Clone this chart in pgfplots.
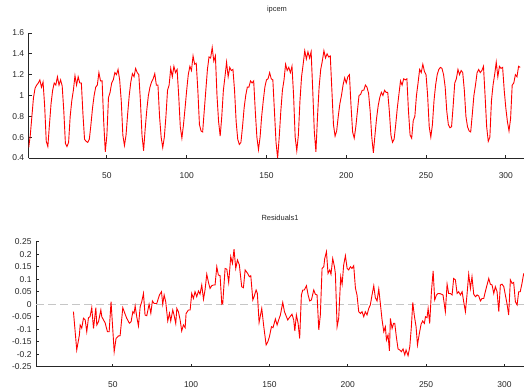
\documentclass[border=0pt]{standalone}
\usepackage{pgfplots}
\pgfplotsset{compat=1.18}
\usepackage{fontspec}
\setmainfont{Liberation Sans}
\pgfplotsset{
  gstyle/.style={
    scale only axis,
    axis x line=bottom, axis y line=left,
    axis line style={-, line width=1bp, black!85},
    tick align=inside,
    major tick length=3bp,
    every tick/.append style={black!85, line width=0.8bp},
    tick label style={font=\fontsize{8.5}{10}\selectfont, text=black!85},
    /pgf/number format/assume math mode=true,
    /pgf/number format/fixed,
    /pgf/number format/precision=2,
    xtick={50,100,150,200,250,300},
    xticklabel style={yshift=-11bp},
    yticklabel style={xshift=-1bp},
  }
}
\begin{document}
\begin{tikzpicture}
\useasboundingbox (0,0) rectangle (524bp,-389bp);
\node[font=\fontsize{7.5}{9}\selectfont, text=black!85] at (277bp,-10bp) {ipcem};
\node[font=\fontsize{7.5}{9}\selectfont, text=black!85] at (280bp,-218bp) {Residuals1};
\begin{axis}[gstyle,
  at={(28.7bp,-158bp)}, anchor=south west,
  width=495.3bp, height=125bp,
  xmin=1, xmax=311.4, ymin=0.4, ymax=1.6,
  ytick={0.4,0.6,0.8,1,1.2,1.4,1.6}]
\addplot[red, line width=0.9bp] coordinates {
(1,0.50)(2,0.62)(3,0.80)(4,0.98)(5,1.07)(6,1.10)(7,1.12)(8,1.15)(9,1.08)(10,1.13)(11,0.90)(12,0.56)
(13,0.51)(14,0.72)(15,0.92)(16,1.05)(17,1.12)(18,1.10)(19,1.18)(20,1.10)(21,1.15)(22,1.09)(23,0.85)(24,0.54)
(25,0.51)(26,0.55)(27,0.80)(28,0.95)(29,1.05)(30,1.19)(31,1.10)(32,1.18)(33,1.12)(34,1.12)(35,0.82)(36,0.58)
(37,0.56)(38,0.55)(39,0.58)(40,0.72)(41,0.88)(42,1.00)(43,1.08)(44,1.10)(45,1.22)(46,1.14)(47,1.14)(48,0.75)
(49,0.46)(50,0.62)(51,0.98)(52,1.03)(53,1.12)(54,1.15)(55,1.22)(56,1.20)(57,1.25)(58,1.15)(59,0.95)(60,0.62)
(61,0.52)(62,0.62)(63,0.82)(64,1.00)(65,1.13)(66,1.21)(67,1.18)(68,1.26)(69,1.22)(70,1.20)(71,0.95)(72,0.62)
(73,0.47)(74,0.68)(75,0.86)(76,1.00)(77,1.08)(78,1.13)(79,1.16)(80,1.21)(81,1.10)(82,1.10)(83,0.80)(84,0.60)
(85,0.50)(86,0.60)(87,0.80)(88,1.05)(89,1.10)(90,1.26)(91,1.18)(92,1.28)(93,1.22)(94,1.25)(95,1.00)(96,0.70)
(97,0.59)(98,0.72)(99,0.88)(100,1.05)(101,1.20)(102,1.28)(103,1.24)(104,1.38)(105,1.30)(106,1.31)(107,1.05)(108,0.72)
(109,0.66)(110,0.65)(111,0.85)(112,1.05)(113,1.25)(114,1.37)(115,1.36)(116,1.46)(117,1.33)(118,1.38)(119,1.00)(120,0.75)
(121,0.61)(122,0.80)(123,1.05)(124,1.18)(125,1.32)(126,1.18)(127,1.27)(128,1.24)(129,1.25)(130,1.05)(131,0.75)(132,0.58)
(133,0.53)(134,0.55)(135,0.70)(136,0.88)(137,1.00)(138,1.08)(139,1.08)(140,1.14)(141,1.12)(142,1.14)(143,0.85)(144,0.60)
(145,0.48)(146,0.60)(147,0.80)(148,0.95)(149,1.08)(150,1.15)(151,1.16)(152,1.22)(153,1.16)(154,1.15)(155,0.85)(156,0.55)
(157,0.40)(158,0.60)(159,0.85)(160,1.05)(161,1.15)(162,1.30)(163,1.24)(164,1.27)(165,1.22)(166,1.28)(167,1.00)(168,0.60)
(169,0.47)(170,0.62)(171,0.95)(172,1.18)(173,1.30)(174,1.43)(175,1.35)(176,1.42)(177,1.36)(178,1.42)(179,1.05)(180,0.65)
(181,0.46)(182,0.80)(183,1.08)(184,1.25)(185,1.33)(186,1.43)(187,1.36)(188,1.40)(189,1.37)(190,1.38)(191,1.05)(192,0.72)
(193,0.61)(194,0.66)(195,0.80)(196,0.92)(197,1.00)(198,1.10)(199,1.17)(200,1.12)(201,1.18)(202,1.20)(203,0.90)(204,0.65)
(205,0.59)(206,0.70)(207,0.85)(208,1.00)(209,1.01)(210,1.05)(211,1.05)(212,1.10)(213,1.08)(214,1.02)(215,0.85)(216,0.60)
(217,0.45)(218,0.62)(219,0.78)(220,0.90)(221,0.98)(222,1.03)(223,1.00)(224,1.05)(225,1.03)(226,1.03)(227,0.85)(228,0.62)
(229,0.55)(230,0.58)(231,0.72)(232,0.88)(233,1.01)(234,1.14)(235,1.10)(236,1.16)(237,1.15)(238,1.16)(239,0.85)(240,0.62)
(241,0.59)(242,0.76)(243,0.80)(244,1.00)(245,1.12)(246,1.25)(247,1.22)(248,1.30)(249,1.23)(250,1.20)(251,1.00)(252,0.70)
(253,0.60)(254,0.72)(255,0.95)(256,1.10)(257,1.20)(258,1.25)(259,1.27)(260,1.26)(261,1.20)(262,1.08)(263,0.85)(264,0.72)
(265,0.69)(266,0.70)(267,0.90)(268,1.12)(269,1.16)(270,1.25)(271,1.20)(272,1.24)(273,1.22)(274,1.05)(275,0.80)(276,0.70)
(277,0.66)(278,0.65)(279,0.82)(280,1.00)(281,1.10)(282,1.22)(283,1.25)(284,1.22)(285,1.24)(286,1.28)(287,1.00)(288,0.70)
(289,0.56)(290,0.60)(291,0.95)(292,1.10)(293,1.20)(294,1.32)(295,1.18)(296,1.28)(297,1.26)(298,1.27)(299,1.05)(300,0.88)
(301,0.75)(302,0.66)(303,0.78)(304,1.10)(305,1.12)(306,1.20)(307,1.18)(308,1.28)(309,1.27)
};
\end{axis}
\begin{axis}[gstyle,
  at={(36bp,-366.7bp)}, anchor=south west,
  width=488bp, height=125bp,
  xmin=1, xmax=312.5, ymin=-0.25, ymax=0.25,
  ytick={-0.25,-0.2,-0.15,-0.1,-0.05,0,0.05,0.1,0.15,0.2,0.25}]
\addplot[gray!45, line width=1bp, dash pattern=on 8bp off 4bp] coordinates {(1,0) (312.5,0)};
\addplot[red, line width=0.9bp] coordinates {
(24.9,-0.03)(27.0,-0.183)(28.7,-0.123)(29.2,-0.083)(30.2,-0.096)(31.3,-0.056)(32.4,-0.063)(33.4,-0.11)(34.5,-0.054)(35.5,-0.05)(36.6,-0.014)(37.7,-0.097)(39.2,-0.014)(39.8,-0.083)(40.9,-0.07)(42.4,-0.023)(43.0,-0.05)(44.1,-0.063)(45.1,-0.074)(46.6,-0.11)(47.7,-0.11)(48.9,0.01)(50.9,-0.19)(52.1,-0.137)(53.6,-0.127)(54.7,-0.126)(56.4,-0.014)(57.9,-0.04)(58.9,-0.056)(60.6,-0.076)(61.7,-0.07)(62.8,-0.03)(63.6,-0.036)(64.3,-0.007)(65.3,-0.05)(66.4,-0.087)(67.5,-0.01)(68.5,0.01)(69.6,0.043)(70.6,-0.043)(71.7,-0.046)(73.2,0.0)(74.3,-0.036)(75.3,0.013)(76.4,0.003)(78.1,0.003)(79.8,0.037)(81.1,0.05)(81.9,0.0)(82.8,0.037)(83.8,0.01)(85.1,-0.067)(86.2,-0.036)(87.0,-0.067)(88.3,-0.023)(89.1,-0.043)(90.2,-0.077)(90.9,-0.017)(91.9,-0.03)(93.0,-0.063)(94.0,-0.107)(95.1,-0.083)(96.2,-0.094)(96.8,-0.037)(98.3,-0.023)(99.4,-0.023)(100.4,0.043)(101.5,0.023)(102.5,0.05)(103.6,0.03)(104.7,0.053)(105.7,0.04)(106.8,0.077)(107.9,0.02)(108.9,0.057)(110.0,0.12)(111.1,0.087)(112.1,0.063)(113.2,0.074)(114.3,0.077)(115.3,0.077)(116.4,0.15)(117.4,0.117)(118.5,0.114)(119.6,0.0)(120.2,0.003)(121.7,0.143)(122.8,0.14)(124.0,0.087)(125.3,0.19)(126.4,0.163)(127.4,0.22)(128.5,0.143)(129.6,0.177)(130.8,0.157)(132.3,0.07)(133.4,0.066)(134.5,0.137)(136.0,0.124)(137.2,0.11)(138.1,0.114)(139.4,0.017)(140.2,0.03)(141.5,0.057)(142.3,0.043)(143.4,-0.073)(145.1,-0.017)
(146.4,-0.09)(147.9,-0.163)(149,-0.15)(150,-0.13)(151.3,-0.09)(152.3,-0.094)(153.8,-0.059)(154.9,-0.083)(155.9,-0.063)(157,-0.043)(158.5,0.007)(159.6,-0.03)(160.6,-0.046)(161.7,-0.063)(162.7,-0.054)(164.4,-0.04)(165.5,-0.063)(166.2,-0.107)(167.2,-0.043)(168.3,-0.076)(169.3,-0.137)(170.4,0.037)(171.3,0.057)(172.3,0.057)(173.6,0.074)(174.7,0.037)(175.7,0.013)(176.8,0.017)(178.3,0.057)(179.3,0.04)(180.4,0.037)(181.5,-0.103)(182.5,-0.043)(183.6,0.143)(184.7,0.15)(185.3,0.183)(186.4,0.21)(187.4,0.123)(188.5,0.137)(189.3,0.12)(190.4,0.183)(191.5,0.15)(192.1,0.123)(193.2,-0.09)(194.2,-0.057)(195.5,0.11)(196.4,0.08)(197.4,0.157)(198.5,0.194)(199.6,0.143)(200.6,0.137)(201.7,0.15)(202.7,0.143)(203.8,0.154)(204.9,0.064)(205.9,0.037)(207,-0.03)(208.1,-0.037)(209.1,-0.03)(210.2,-0.05)(211.2,-0.03)(212.3,-0.043)(213.4,-0.017)(214.4,-0.003)(215.5,0.037)(216.6,0.074)(217.6,0.026)(218.7,0.013)(219.8,0.061)(220.8,0.003)(221.9,-0.063)(223,-0.11)(224.0,-0.09)(224.7,-0.143)(225.7,-0.123)(226.6,-0.187)(227.2,-0.057)(228.3,-0.097)(229.3,-0.076)(230,-0.076)(231,-0.13)(232.1,-0.179)(233.2,-0.183)(234.2,-0.19)(235.3,-0.179)(236.4,-0.203)(237.2,-0.183)(238.5,-0.206)(239.6,-0.17)(240.6,-0.09)(241.5,0.007)(242.5,-0.046)(243.6,-0.09)(244.5,-0.163)(245.7,-0.117)(246.8,-0.08)(247.8,-0.067)(248.9,-0.077)(249.6,-0.05)(250.6,-0.054)(251.3,-0.017)(252.3,-0.077)(253.4,0.05)(254.5,0.133)(255.5,0.017)(256.6,0.037)(257.6,0.043)(259.1,0.042)(260.8,0.037)(262.3,-0.03)(263.4,0.08)(264.4,0.043)(265.5,0.043)(266.6,0.037)(267.6,0.103)(268.7,0.097)(269.8,0.043)(270.8,0.05)(271.9,0.037)(273,0.05)(274,0.01)(275.1,-0.03)(276.1,0.037)(277.2,0.12)(278.3,0.063)(279.3,0.11)(280.4,0.04)(281.5,0.03)(282.6,0.037)(283.6,0.033)(284.7,0.013)(285.7,0.023)(286.8,0.023)(287.8,0.05)(288.9,0.077)(290,0.103)(291,0.08)(292.1,0.077)(293.2,0.043)(294.2,0.07)(295.3,0.05)(296.4,-0.03)(297.4,0.077)(298.5,0.08)(299.6,0.07)(300.6,0.037)(301.7,0.0)(302.7,-0.043)(303.8,0.097)(304.9,0.083)(305.9,0.087)(307,0.01)(308.1,-0.003)(309.1,0.05)(310.1,0.05)(311.2,0.083)(312.3,0.123)
};
\end{axis}
\end{tikzpicture}
\end{document}
